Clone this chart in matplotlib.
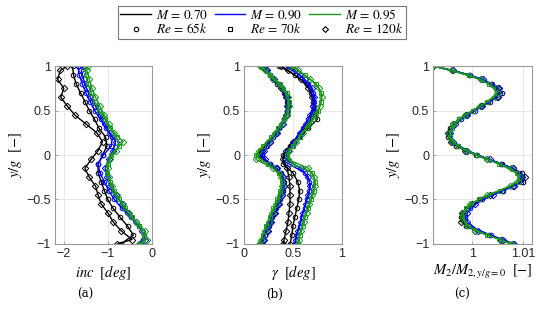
import matplotlib
matplotlib.use('Agg')
import matplotlib.pyplot as plt
from matplotlib.lines import Line2D

# probe positions (two traverse grids)
y_a = [1.0, 0.9, 0.8, 0.7, 0.6, 0.5, 0.4, 0.3, 0.2, 0.1, 0.0,
       -0.1, -0.2, -0.3, -0.4, -0.5, -0.6, -0.7, -0.8, -0.9, -1.0]
y_b = [1.0, 0.95, 0.85, 0.75, 0.65, 0.55, 0.45, 0.35, 0.25, 0.15, 0.05,
       -0.05, -0.15, -0.25, -0.35, -0.45, -0.55, -0.65, -0.75, -0.85, -0.95, -1.0]

# (a) incidence [deg]
inc_k65 = [-1.80, -1.78, -1.72, -1.62, -1.52, -1.42, -1.30, -1.20, -1.05, -1.02, -1.12,
           -1.22, -1.22, -1.15, -1.08, -1.00, -0.88, -0.72, -0.55, -0.42, -0.70]
inc_k120 = [-1.92, -2.08, -2.14, -2.00, -2.07, -1.92, -1.75, -1.50, -1.25, -1.12, -1.22,
            -1.38, -1.52, -1.42, -1.28, -1.22, -1.15, -1.00, -0.88, -0.70, -0.45, -0.78]
inc_b65 = [-1.68, -1.65, -1.58, -1.50, -1.40, -1.30, -1.16, -1.05, -0.90, -0.92, -1.10,
           -1.22, -1.18, -1.08, -0.98, -0.85, -0.68, -0.48, -0.30, -0.18, -0.28]
inc_b120 = [-1.55, -1.60, -1.55, -1.48, -1.40, -1.28, -1.18, -1.06, -0.95, -0.82, -0.88,
            -0.98, -1.06, -1.02, -0.95, -0.82, -0.68, -0.55, -0.36, -0.22, -0.15, -0.25]
inc_g70 = [-1.52, -1.50, -1.45, -1.38, -1.30, -1.20, -1.06, -0.95, -0.80, -0.75, -0.92,
           -1.00, -1.02, -0.95, -0.86, -0.74, -0.60, -0.45, -0.28, -0.18, -0.22]
inc_g120 = [-1.45, -1.48, -1.42, -1.36, -1.28, -1.18, -1.08, -0.98, -0.85, -0.65, -0.82,
            -0.95, -1.00, -0.98, -0.90, -0.80, -0.66, -0.52, -0.36, -0.16, -0.12, -0.30]

# (b) gamma [deg], left and right branch
gam_k65_l = [0.18, 0.26, 0.34, 0.41, 0.44, 0.44, 0.41, 0.36, 0.30, 0.22, 0.14,
             0.27, 0.38, 0.41, 0.40, 0.37, 0.33, 0.29, 0.25, 0.21, 0.18]
gam_k65_r = [0.36, 0.52, 0.64, 0.69, 0.71, 0.74, 0.75, 0.66, 0.56, 0.47, 0.40,
             0.40, 0.50, 0.55, 0.57, 0.56, 0.54, 0.52, 0.50, 0.49, 0.47]
gam_k120_l = [0.17, 0.22, 0.30, 0.38, 0.43, 0.44, 0.43, 0.39, 0.33, 0.26, 0.18,
              0.18, 0.33, 0.40, 0.41, 0.39, 0.35, 0.31, 0.27, 0.23, 0.19, 0.17]
gam_k120_r = [0.38, 0.45, 0.58, 0.66, 0.70, 0.71, 0.70, 0.66, 0.58, 0.50, 0.43,
              0.40, 0.44, 0.46, 0.47, 0.47, 0.47, 0.46, 0.45, 0.43, 0.41, 0.40]
gam_b65_l = [0.19, 0.27, 0.36, 0.42, 0.45, 0.44, 0.41, 0.36, 0.30, 0.23, 0.18,
             0.26, 0.37, 0.40, 0.39, 0.36, 0.32, 0.28, 0.24, 0.21, 0.18]
gam_b65_r = [0.45, 0.57, 0.66, 0.71, 0.72, 0.71, 0.66, 0.60, 0.55, 0.49, 0.43,
             0.46, 0.62, 0.67, 0.67, 0.64, 0.62, 0.59, 0.57, 0.54, 0.52]
gam_b120_l = [0.18, 0.23, 0.31, 0.39, 0.44, 0.45, 0.44, 0.40, 0.34, 0.27, 0.20,
              0.21, 0.34, 0.40, 0.41, 0.39, 0.36, 0.32, 0.28, 0.24, 0.20, 0.18]
gam_b120_r = [0.46, 0.52, 0.62, 0.70, 0.72, 0.71, 0.68, 0.63, 0.57, 0.51, 0.45,
              0.43, 0.58, 0.66, 0.68, 0.66, 0.63, 0.60, 0.58, 0.55, 0.53, 0.52]
gam_g70_l = [0.17, 0.27, 0.37, 0.44, 0.46, 0.45, 0.41, 0.35, 0.28, 0.19, 0.12,
             0.24, 0.36, 0.39, 0.37, 0.34, 0.30, 0.26, 0.22, 0.19, 0.16]
gam_g70_r = [0.50, 0.62, 0.74, 0.79, 0.79, 0.76, 0.71, 0.64, 0.57, 0.50, 0.44,
             0.50, 0.70, 0.73, 0.72, 0.69, 0.66, 0.62, 0.60, 0.57, 0.55]
gam_g120_l = [0.16, 0.21, 0.30, 0.39, 0.45, 0.46, 0.44, 0.39, 0.32, 0.24, 0.15,
              0.12, 0.30, 0.38, 0.39, 0.37, 0.33, 0.29, 0.25, 0.21, 0.17, 0.15]
gam_g120_r = [0.48, 0.55, 0.68, 0.77, 0.80, 0.78, 0.73, 0.67, 0.60, 0.53, 0.46,
              0.45, 0.66, 0.72, 0.73, 0.70, 0.67, 0.64, 0.61, 0.58, 0.56, 0.55]

# (c) M2 / M2(y/g=0)
mr_k65 = [0.9924, 0.9994, 1.0038, 1.0058, 1.0032, 1.0002, 0.9974, 0.9956, 0.9953, 0.9969, 1.0008,
          1.0058, 1.0097, 1.0100, 1.0058, 1.0016, 0.9989, 0.9978, 0.9987, 1.0033, 1.0078]
mr_k120 = [0.9924, 0.9960, 1.0018, 1.0050, 1.0050, 1.0018, 0.9987, 0.9963, 0.9953, 0.9958, 0.9985,
           1.0030, 1.0080, 1.0103, 1.0080, 1.0035, 1.0000, 0.9980, 0.9978, 1.0005, 1.0057, 1.0079]
mr_b65 = [0.9924, 0.9996, 1.0036, 1.0055, 1.0034, 1.0005, 0.9978, 0.9961, 0.9957, 0.9972, 1.0010,
          1.0056, 1.0092, 1.0095, 1.0060, 1.0020, 0.9995, 0.9986, 0.9994, 1.0036, 1.0080]
mr_b120 = [0.9924, 0.9963, 1.0022, 1.0053, 1.0048, 1.0020, 0.9990, 0.9967, 0.9957, 0.9962, 0.9990,
           1.0034, 1.0080, 1.0098, 1.0082, 1.0040, 1.0006, 0.9990, 0.9990, 1.0012, 1.0060, 1.0082]
mr_g70 = [0.9924, 0.9993, 1.0033, 1.0050, 1.0030, 1.0001, 0.9975, 0.9960, 0.9956, 0.9972, 1.0009,
          1.0052, 1.0088, 1.0092, 1.0055, 1.0013, 0.9988, 0.9980, 0.9990, 1.0030, 1.0076]
mr_g120 = [0.9924, 0.9960, 1.0017, 1.0046, 1.0044, 1.0016, 0.9986, 0.9963, 0.9955, 0.9960, 0.9987,
           1.0030, 1.0076, 1.0094, 1.0075, 1.0030, 0.9996, 0.9982, 0.9984, 1.0006, 1.0055, 1.0078]

black, blue, green = '#000000', '#0000ff', '#1a9a1a'

plt.rcParams['mathtext.fontset'] = 'stix'
plt.rcParams['font.family'] = 'Liberation Sans'

fig = plt.figure(figsize=(5.5, 3.1), dpi=100)
ax_a = fig.add_axes([0.100, 0.213, 0.176, 0.574])
ax_b = fig.add_axes([0.444, 0.213, 0.177, 0.574])
ax_c = fig.add_axes([0.788, 0.213, 0.179, 0.574])


def curve(ax, x, y, color, marker):
    ax.plot(x, y, color=color, lw=1.0, marker=marker, ms=3.3, mfc='none', mew=0.7)


# (a)
curve(ax_a, inc_k65, y_a, black, 'o')
curve(ax_a, inc_k120, y_b, black, 'D')
curve(ax_a, inc_b65, y_a, blue, 'o')
curve(ax_a, inc_b120, y_b, blue, 'D')
curve(ax_a, inc_g70, y_a, green, 's')
curve(ax_a, inc_g120, y_b, green, 'D')

# (b)
for xl, xr, yy, c, m in [(gam_k65_l, gam_k65_r, y_a, black, 'o'),
                         (gam_k120_l, gam_k120_r, y_b, black, 'D'),
                         (gam_b65_l, gam_b65_r, y_a, blue, 'o'),
                         (gam_b120_l, gam_b120_r, y_b, blue, 'D'),
                         (gam_g70_l, gam_g70_r, y_a, green, 's'),
                         (gam_g120_l, gam_g120_r, y_b, green, 'D')]:
    curve(ax_b, xl, yy, c, m)
    curve(ax_b, xr, yy, c, m)

# (c)
curve(ax_c, mr_k65, y_a, black, 'o')
curve(ax_c, mr_k120, y_b, black, 'D')
curve(ax_c, mr_b65, y_a, blue, 'o')
curve(ax_c, mr_b120, y_b, blue, 'D')
curve(ax_c, mr_g70, y_a, green, 's')
curve(ax_c, mr_g120, y_b, green, 'D')

ax_a.set_xlim(-2.2, 0)
ax_a.set_xticks([-2, -1, 0])
ax_b.set_xlim(0, 1)
ax_b.set_xticks([0, 0.5, 1])
ax_b.set_xticklabels(['0', '0.5', '1'])
ax_c.set_xlim(0.9924, 1.0117)
ax_c.set_xticks([1, 1.01])
ax_c.set_xticklabels(['1', '1.01'])

ax_a.set_xlabel(r'$inc\ \ [deg]$', fontsize=10.5, labelpad=2)
ax_b.set_xlabel(r'$\gamma\ \ [deg]$', fontsize=10.5, labelpad=2)
ax_c.set_xlabel(r'$M_2/M_{2,y/g=0}\ \ [-]$', fontsize=10.5, labelpad=2)

for ax in (ax_a, ax_b, ax_c):
    ax.set_ylim(-1, 1)
    ax.set_yticks([-1, -0.5, 0, 0.5, 1])
    ax.set_yticklabels(['\u22121', '\u22120.5', '0', '0.5', '1'])
    ax.set_ylabel(r'$y/g\ \ [-]$', fontsize=10.5, labelpad=2)
    ax.grid(color='#e3e3e3', linewidth=0.6)
    ax.set_axisbelow(True)
    ax.tick_params(direction='in', length=2, width=0.5, labelsize=9,
                   colors='#8c8c8c', labelcolor='#262626', pad=3)
    for s in ax.spines.values():
        s.set_color('#9a9a9a')
        s.set_linewidth(0.8)

# legend
handles = [Line2D([], [], color=black, lw=1.0),
           Line2D([], [], ls='none', marker='o', ms=3.2, mfc='none', mec=black, mew=0.8),
           Line2D([], [], color=blue, lw=1.0),
           Line2D([], [], ls='none', marker='s', ms=3.2, mfc='none', mec=black, mew=0.8),
           Line2D([], [], color=green, lw=1.0),
           Line2D([], [], ls='none', marker='D', ms=3.0, mfc='none', mec=black, mew=0.8)]
labels = [r'$M\,=\,0.70$', r'$Re\,=\,65k$', r'$M\,=\,0.90$', r'$Re\,=\,70k$',
          r'$M\,=\,0.95$', r'$Re\,=\,120k$']
leg = fig.legend(handles, labels, ncol=3, loc='upper center', bbox_to_anchor=(0.476, 0.99),
                 fontsize=9.5, frameon=True, fancybox=False, edgecolor='#555555',
                 handlelength=2.3, handletextpad=0.4, columnspacing=0.5,
                 labelspacing=0.05, borderpad=0.2, borderaxespad=0.2)
leg.get_frame().set_linewidth(0.8)

# sub-figure labels
for x, t in [(0.155, '(a)'), (0.5, '(b)'), (0.84, '(c)')]:
    fig.text(x, 0.04, t, ha='center', fontsize=8.5, family='DejaVu Serif')

plt.savefig('out.png', dpi=100, facecolor='white')
plt.close()
